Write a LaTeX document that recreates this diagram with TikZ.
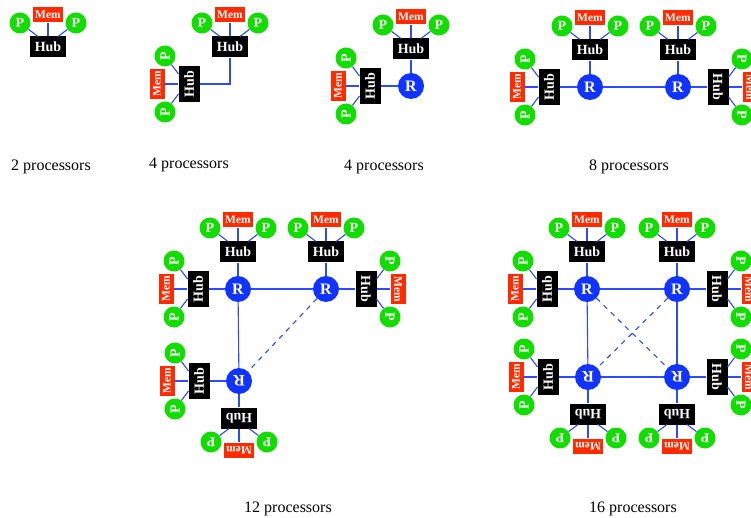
\documentclass[tikz,border=0pt]{standalone}
\usepackage{fontspec}
\setmainfont{Liberation Serif}

\definecolor{pgreen}{HTML}{11DD00}
\definecolor{memred}{HTML}{FF2A00}
\definecolor{rblue}{HTML}{1133FF}
\definecolor{wire}{HTML}{2A4BFF}

\tikzset{
  link/.style={draw=wire, line width=1.1pt},
  crosslink/.style={link, dash pattern=on 5pt off 5pt},
  hubbox/.style={fill=black, text=white, minimum width=36pt, minimum height=21pt,
    inner sep=0pt, font=\bfseries\fontsize{14}{14}\selectfont},
  membox/.style={fill=memred, text=white, minimum width=30pt, minimum height=15pt,
    inner sep=0pt, font=\bfseries\fontsize{11.5}{11.5}\selectfont},
  proc/.style={circle, fill=pgreen, text=white, minimum size=21pt, inner sep=0pt,
    font=\bfseries\fontsize{14}{14}\selectfont},
  router/.style={circle, fill=rblue, text=white, minimum size=26pt, inner sep=0pt,
    font=\bfseries\fontsize{16}{16}\selectfont},
  caption/.style={font=\fontsize{16}{16}\selectfont},
  % one node: a hub with its memory and two processors
  module/.pic={
    \node[hubbox] (-hub) at (0,0) {Hub};
    \node[membox] (-mem) at (0,-32) {Mem};
    \node[proc] (-pa) at (-28,-24) {P};
    \node[proc] (-pb) at (28,-24) {P};
    \coordinate (-ja) at (-10,-10.5);
    \coordinate (-jb) at (10,-10.5);
    \draw[link] (-mem) -- (-hub);
    \draw[link] (-pa) -- (-ja);
    \draw[link] (-pb) -- (-jb);
  },
  up/.style={transform shape},
  left/.style={rotate=90, transform shape},
  right/.style={rotate=-90, transform shape},
  down/.style={rotate=180, transform shape},
}

\begin{document}
\begin{tikzpicture}[x=1pt, y=-1pt]
\useasboundingbox (0,0) rectangle (751,518);

% ---- 2 processors
\pic[up] (a) at (48,47) {module};
\node[caption] (capa) at (51,167) {2 processors};

% ---- 4 processors, two hubs wired directly
\pic[up] (ba) at (230,47) {module};
\pic[left] (bb) at (189,84) {module};
\draw[link] (bb-hub) -| (ba-hub);
\node[caption] (capb) at (189,165) {4 processors};

% ---- 4 processors through a router
\node[router] (rc) at (411,86) {R};
\pic[up] (ca) at (411,49) {module};
\pic[left] (cb) at (370,86) {module};
\draw[link] (rc) -- (ca-hub);
\draw[link] (rc) -- (cb-hub);
\node[caption] (capc) at (384,167) {4 processors};

% ---- 8 processors
\node[router] (rda) at (590,87) {R};
\node[router] (rdb) at (678,87) {R};
\pic[up] (da) at (590,50) {module};
\pic[up] (db) at (678,50) {module};
\pic[left] (dc) at (549,87) {module};
\pic[right] (dd) at (718,87) {module};
\draw[link] (rda) -- (da-hub);
\draw[link] (rdb) -- (db-hub);
\draw[link] (rda) -- (dc-hub);
\draw[link] (rdb) -- (dd-hub);
\draw[link] (rda) -- (rdb);
\node[caption] (capd) at (629,167) {8 processors};

% ---- 12 processors
\node[router] (rea) at (238,289) {R};
\node[router] (reb) at (326,289) {R};
\node[router, rotate=180] (rec) at (239,381) {R};
\pic[up] (ea) at (238,252) {module};
\pic[up] (eb) at (326,252) {module};
\pic[left] (ec) at (198,289) {module};
\pic[right] (ed) at (366,289) {module};
\pic[left] (ee) at (199,381) {module};
\pic[down] (ef) at (239,418) {module};
\draw[link] (rea) -- (ea-hub);
\draw[link] (reb) -- (eb-hub);
\draw[link] (rea) -- (ec-hub);
\draw[link] (reb) -- (ed-hub);
\draw[link] (rec) -- (ee-hub);
\draw[link] (rec) -- (ef-hub);
\draw[link] (rea) -- (reb);
\draw[link] (rea) -- (rec);
\draw[crosslink] (reb) -- (rec);
\node[caption] (cape) at (288,509) {12 processors};

% ---- 16 processors
\node[router] (rfa) at (587,289) {R};
\node[router] (rfb) at (677,289) {R};
\node[router, rotate=180] (rfc) at (588,377) {R};
\node[router, rotate=180] (rfd) at (677,377) {R};
\pic[up] (fa) at (587,252) {module};
\pic[up] (fb) at (677,252) {module};
\pic[left] (fc) at (547,289) {module};
\pic[right] (fd) at (717,289) {module};
\pic[left] (fe) at (548,377) {module};
\pic[right] (ff) at (717,377) {module};
\pic[down] (fg) at (588,414) {module};
\pic[down] (fh) at (677,414) {module};
\draw[link] (rfa) -- (fa-hub);
\draw[link] (rfb) -- (fb-hub);
\draw[link] (rfa) -- (fc-hub);
\draw[link] (rfb) -- (fd-hub);
\draw[link] (rfc) -- (fe-hub);
\draw[link] (rfd) -- (ff-hub);
\draw[link] (rfc) -- (fg-hub);
\draw[link] (rfd) -- (fh-hub);
\draw[link] (rfa) -- (rfb);
\draw[link] (rfa) -- (rfc);
\draw[link] (rfb) -- (rfd);
\draw[link] (rfc) -- (rfd);
\draw[crosslink] (rfa) -- (rfd);
\draw[crosslink] (rfb) -- (rfc);
\node[caption] (capf) at (633,509) {16 processors};
\end{tikzpicture}
\end{document}
